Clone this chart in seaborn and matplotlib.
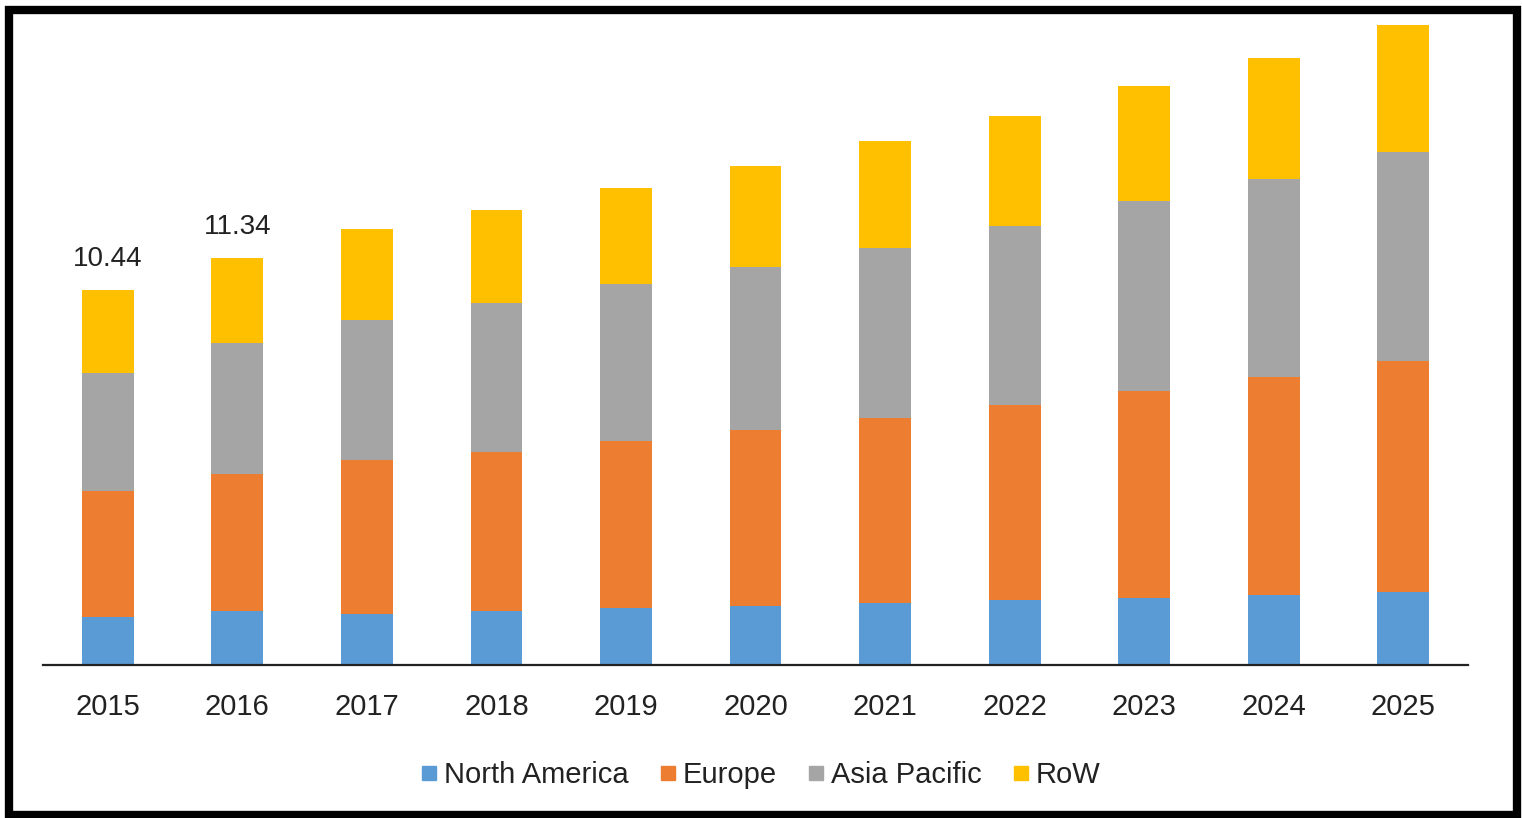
#--Stacked market bars by region, 2015-2025--#
import numpy as np
import pandas as pd
import seaborn as sns
import matplotlib.pyplot as plt
from matplotlib.lines import Line2D
from matplotlib.patches import Rectangle

#--Data--#
years = ['2015', '2016', '2017', '2018', '2019', '2020', '2021', '2022', '2023', '2024', '2025']
north_america = [1.34, 1.50, 1.42, 1.50, 1.59, 1.64, 1.73, 1.81, 1.87, 1.95, 2.03]
europe = [3.51, 3.81, 4.29, 4.43, 4.65, 4.90, 5.15, 5.43, 5.76, 6.07, 6.43]
asia_pacific = [3.29, 3.67, 3.90, 4.15, 4.37, 4.54, 4.73, 4.98, 5.29, 5.51, 5.82]
row = [2.30, 2.36, 2.53, 2.59, 2.67, 2.81, 2.98, 3.06, 3.20, 3.37, 3.54]
regions = ['North America', 'Europe', 'Asia Pacific', 'RoW']
colors = ['#5B9BD5', '#ED7D31', '#A5A5A5', '#FFC000']
labels = {0: '10.44', 1: '11.34'}

df = pd.DataFrame({'year': years, 'North America': north_america, 'Europe': europe,
                   'Asia Pacific': asia_pacific, 'RoW': row})
# cumulative tops, drawn back to front so each bar hides the one behind
cum = df[regions].cumsum(axis=1)

sns.set_style('white')
plt.rcParams['font.family'] = ['Liberation Sans Narrow', 'Liberation Sans', 'DejaVu Sans']

fig = plt.figure(figsize=(15.22, 8.18), dpi=100)
ax = fig.add_axes([43 / 1522, 1 - 665 / 818, (1468 - 43) / 1522, 645 / 818])

for reg, col in reversed(list(zip(regions, colors))):
    sns.barplot(x=df['year'], y=cum[reg], color=col, width=0.4, saturation=1,
                ax=ax, linewidth=0)

for i, txt in labels.items():
    ax.text(i, cum['RoW'][i] + 0.5, txt, ha='center', va='bottom', fontsize=20, color='#222222')

ax.set_xlim(-0.5, 10.5)
ax.set_ylim(0, 17.96)
ax.set_xlabel('')
ax.set_ylabel('')
ax.set_yticks([])
for s in ['top', 'right', 'left']:
    ax.spines[s].set_visible(False)
ax.spines['bottom'].set_color('#222222')
ax.spines['bottom'].set_linewidth(1.6)
ax.tick_params(axis='x', length=0, pad=20, labelsize=21, labelcolor='#222222')

handles = [Line2D([], [], marker='s', linestyle='', color=c, markersize=10) for c in colors]
fig.legend(handles, regions, loc='center', bbox_to_anchor=(0.5, 1 - 775 / 818), ncol=4,
           frameon=False, fontsize=21, handlelength=0.5, handletextpad=0.25,
           columnspacing=1.1, labelcolor='#222222')

# black picture frame
fig.patches.append(Rectangle((9 / 1522, 3 / 818), 1508 / 1522, 805 / 818, transform=fig.transFigure,
                             fill=False, edgecolor='black', linewidth=6))

fig.savefig('out.png', dpi=100)
